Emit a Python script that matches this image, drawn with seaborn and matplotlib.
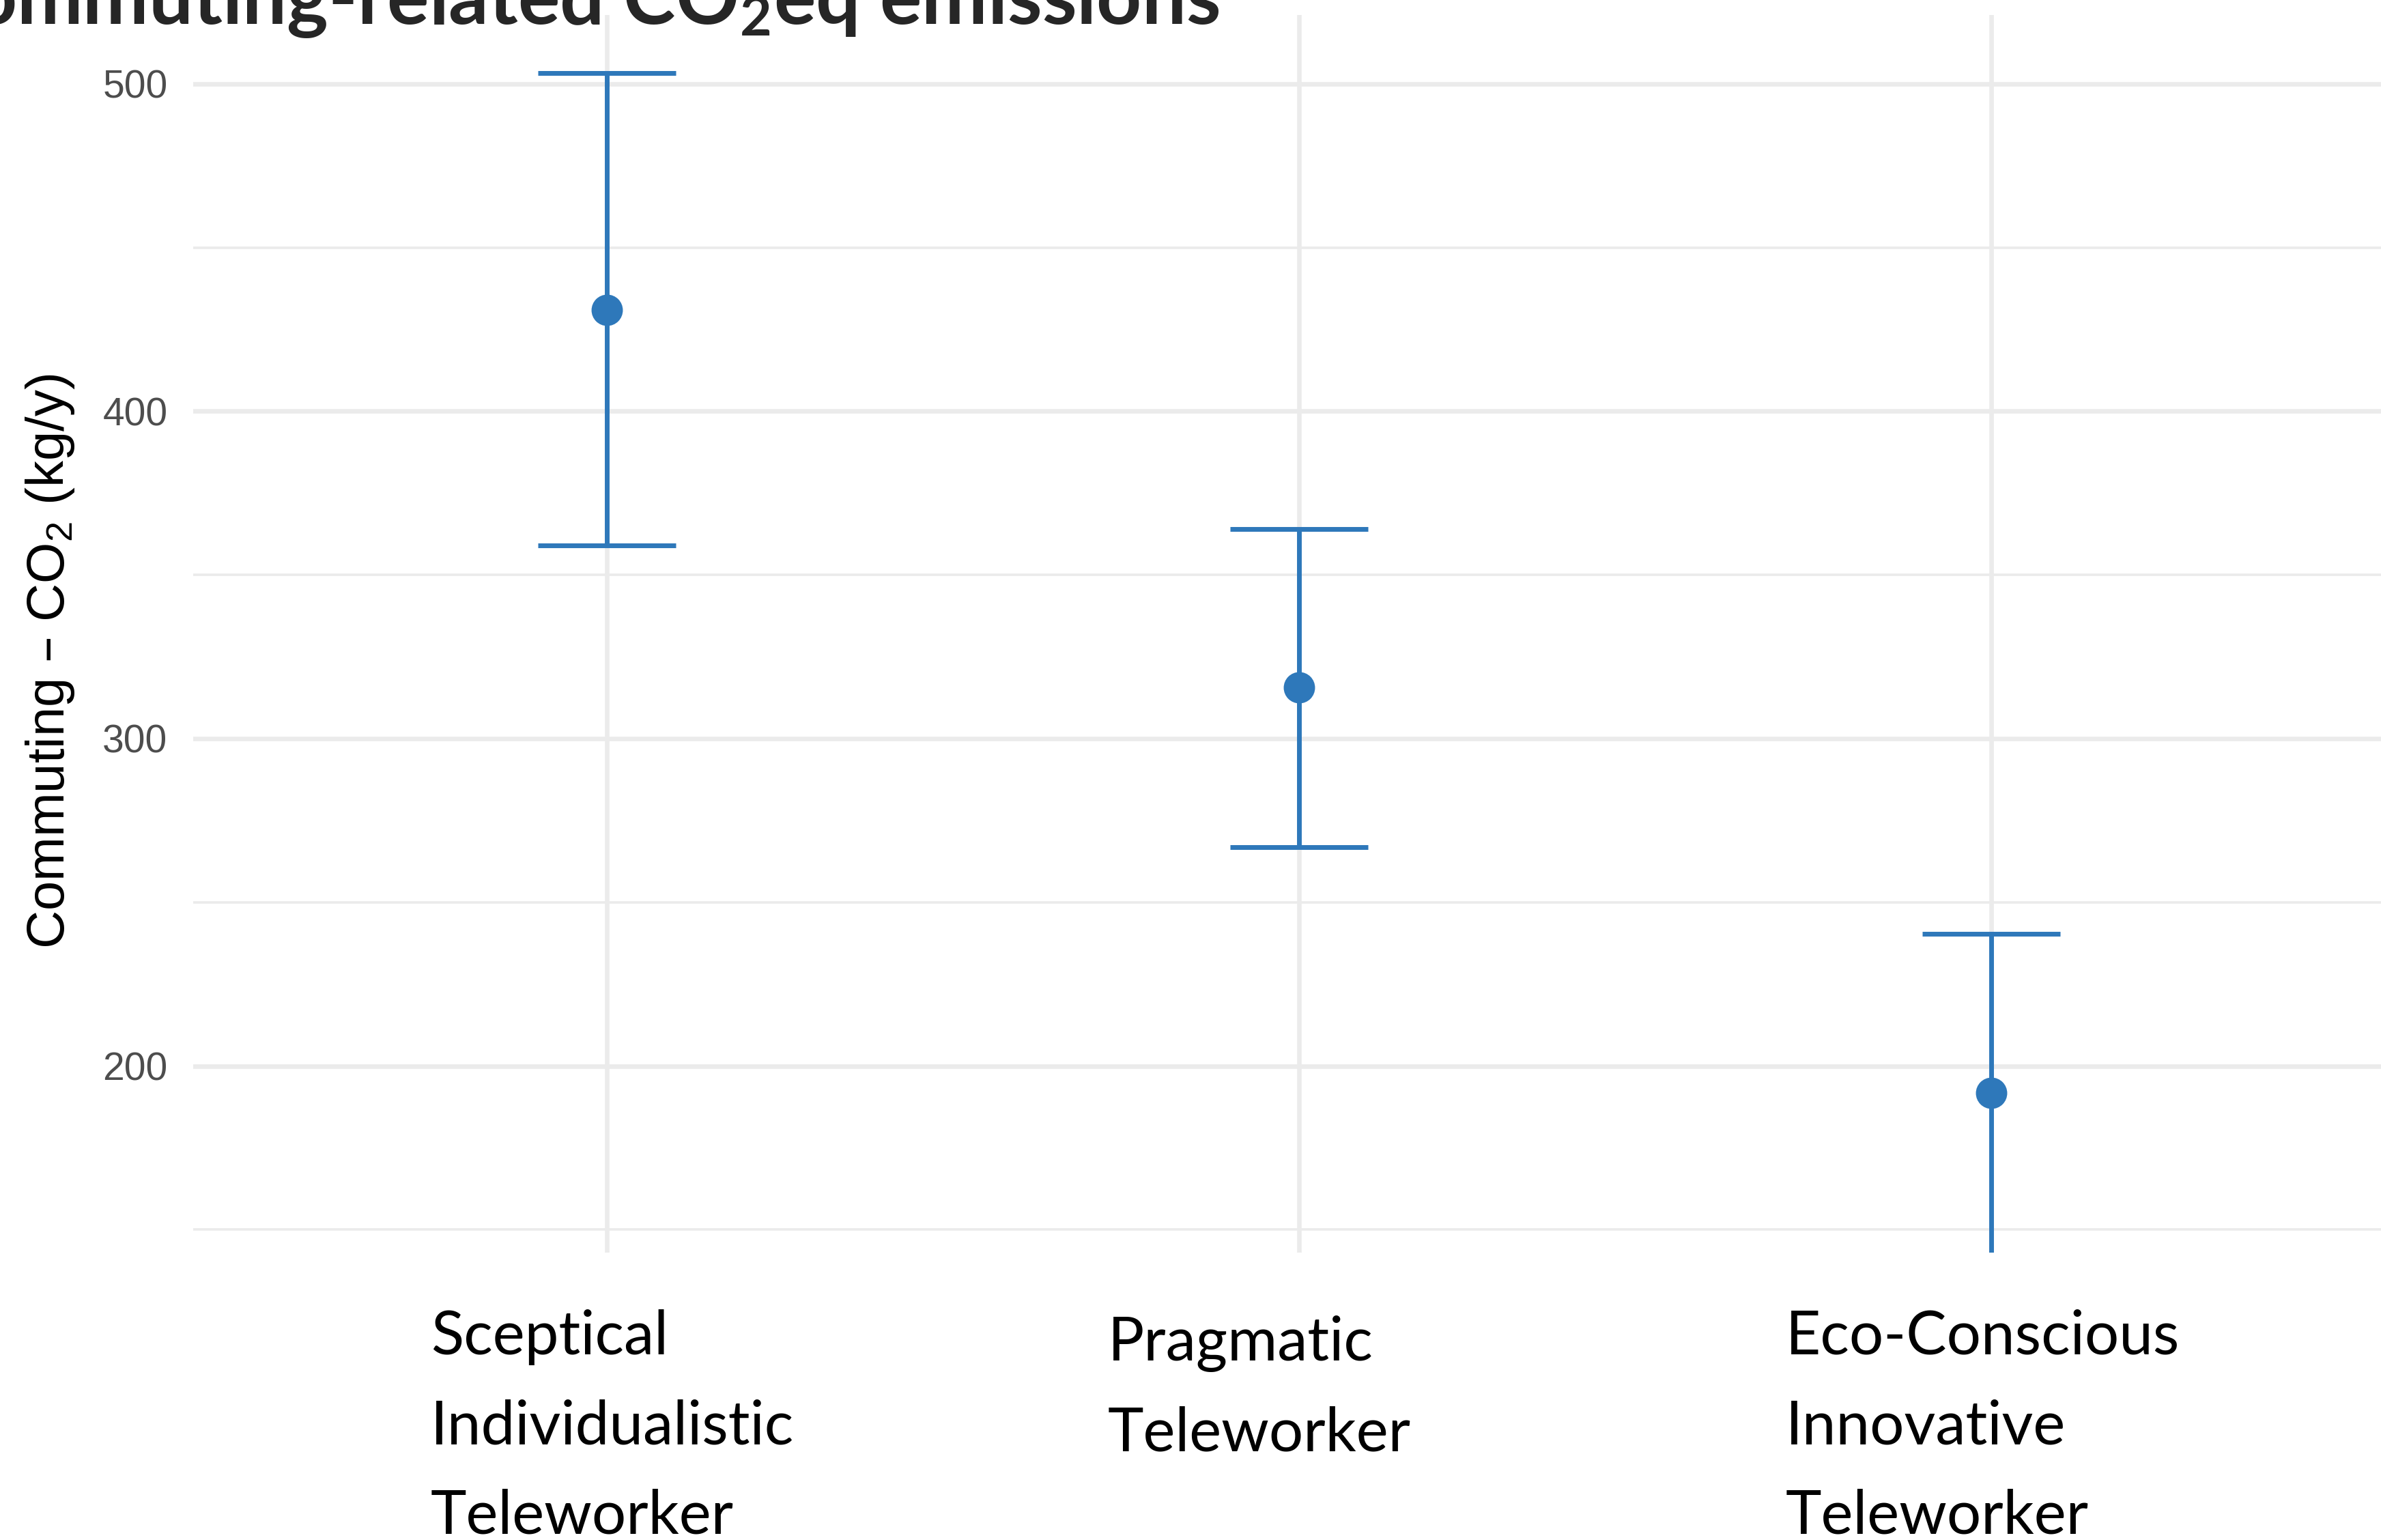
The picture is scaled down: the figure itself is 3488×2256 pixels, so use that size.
import numpy as np
import pandas as pd
import matplotlib
matplotlib.use("Agg")
import matplotlib.pyplot as plt
import matplotlib.transforms as mtransforms
import seaborn as sns
from matplotlib.ticker import MultipleLocator

# values
groups = ["Sceptical\nIndividualistic\nTeleworker",
          "Pragmatic\nTeleworker",
          "Eco-Conscious\nInnovative\nTeleworker"]
mean_co2 = [430.9, 315.6, 191.7]
lower_ci = [359.0, 266.8, 142.0]
upper_ci = [503.2, 364.1, 240.3]
y_ticks = [200, 300, 400, 500]

# label placement (left edge shift in category units, last baseline in axes units)
label_dx = [-0.254, -0.276, -0.297]
label_y = [-0.2272, -0.1605, -0.2272]

blue = "#2E78BA"
grid_col = "#EBEBEB"

df = pd.DataFrame({"group": groups, "co2": mean_co2, "lo": lower_ci, "hi": upper_ci})

sns.set_theme(style="whitegrid")
plt.rcParams["font.family"] = ["Liberation Sans", "DejaVu Sans"]

W, H = 3488, 2256
fig = plt.figure(figsize=(W / 100, H / 100), dpi=100)
ax = fig.add_axes([283 / W, 1 - 1835 / H, 1 - 283 / W, (1835 - 22) / H])

sns.pointplot(data=df, x="group", y="co2", color=blue, linestyle="none",
              markers="o", markersize=31, errorbar=None, ax=ax, zorder=4)
yerr = [df["co2"] - df["lo"], df["hi"] - df["co2"]]
ax.errorbar(x=np.arange(len(df)), y=df["co2"], yerr=yerr, fmt="none",
            ecolor=blue, elinewidth=5, capsize=72.5, capthick=5, zorder=3)

ax.set_xlim(-0.597, 2.563)
ax.set_ylim(143.0, 521)
ax.set_yticks(y_ticks)
ax.yaxis.set_minor_locator(MultipleLocator(50))
ax.grid(which="major", color=grid_col, linewidth=4.8)
ax.grid(which="minor", axis="y", color=grid_col, linewidth=2.6)
ax.set_axisbelow(True)
sns.despine(ax=ax, left=True, bottom=True)
ax.tick_params(which="both", length=0)
ax.tick_params(axis="y", labelsize=41, labelcolor="#4D4D4D", pad=27)
ax.set_xticks(range(len(groups)))
ax.set_xticklabels([])

# category labels, left-aligned blocks under each point
trans = mtransforms.blended_transform_factory(ax.transData, ax.transAxes)
for i, g in enumerate(df["group"]):
    ax.text(i + label_dx[i], label_y[i], g, transform=trans, ha="left", va="baseline",
            fontsize=64, color="black", family=["Lato", "DejaVu Sans"],
            linespacing=1.75, clip_on=False)

ax.set_xlabel("")
ax.set_ylabel(r"Commuting – $\mathregular{CO_2}$ (kg/y)", fontsize=56, color="black")
ax.yaxis.set_label_coords(-0.0655, 0.478)
ax.yaxis.label.set_va("center")

fig.text(1786 / W, 1 - 35 / H, r"Commuting-related $\mathregular{CO_2}$eq emissions",
         ha="right", va="baseline", fontsize=83, fontweight="bold",
         fontfamily=["Lato", "DejaVu Sans"])

fig.savefig("out.png", dpi=100)
